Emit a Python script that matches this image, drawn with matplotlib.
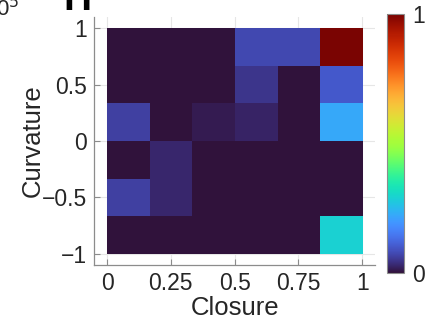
import numpy as np
import matplotlib
matplotlib.use("Agg")
import matplotlib.pyplot as plt

# ----------------------------------
# Data (rows from Curvature = 1 down to -1, columns Closure 0 -> 1)
# ----------------------------------
row_1 = [0.00, 0.00, 0.00, 0.075, 0.075, 1.00]
row_2 = [0.00, 0.00, 0.00, 0.05, 0.00, 0.10]
row_3 = [0.065, 0.00, 0.015, 0.025, 0.00, 0.22]
row_4 = [0.00, 0.03, 0.00, 0.00, 0.00, 0.00]
row_5 = [0.065, 0.03, 0.00, 0.00, 0.00, 0.00]
row_6 = [0.00, 0.00, 0.00, 0.00, 0.00, 0.29]

x_ticks = [0, 0.25, 0.5, 0.75, 1]
x_labels = ["0", "0.25", "0.5", "0.75", "1"]
y_ticks = [-1, -0.5, 0, 0.5, 1]
y_labels = ["\u22121", "\u22120.5", "0", "0.5", "1"]

grid = np.array([row_1, row_2, row_3, row_4, row_5, row_6])

plt.rcParams["font.family"] = ["Liberation Sans", "DejaVu Sans"]
text_col = "#262626"
axis_col = "#8c8c8c"

fig = plt.figure(figsize=(4.38, 3.29), dpi=100)
ax = fig.add_axes([0.2153, 0.1945, 0.641, 0.7538])
cax = fig.add_axes([0.8842, 0.1711, 0.0388, 0.7854])

im = ax.imshow(grid, cmap="turbo", vmin=0, vmax=1, extent=[0, 1, -1, 1],
               origin="upper", aspect="auto", interpolation="nearest", zorder=2)

ax.set_xlim(-0.05, 1.05)
ax.set_ylim(-1.1, 1.1)
ax.set_xticks(x_ticks)
ax.set_xticklabels(x_labels)
ax.set_yticks(y_ticks)
ax.set_yticklabels(y_labels)
ax.grid(True, color="#e6e6e6", linewidth=0.8, zorder=0)
ax.set_axisbelow(True)

for side in ["top", "right"]:
    ax.spines[side].set_visible(False)
for side in ["left", "bottom"]:
    ax.spines[side].set_color(axis_col)
    ax.spines[side].set_linewidth(0.9)

ax.tick_params(direction="in", length=4, color=axis_col, labelsize=16.5,
               labelcolor=text_col, pad=5)
ax.set_xlabel("Closure", fontsize=18.5, color=text_col, labelpad=1)
ax.set_ylabel("Curvature", fontsize=18.5, color=text_col)
ax.yaxis.set_label_coords(-0.176, 0.5)

cb = fig.colorbar(im, cax=cax, ticks=[0, 1])
cb.ax.tick_params(length=0, labelsize=16.5, labelcolor=text_col, pad=6)
cb.outline.set_edgecolor(axis_col)
cb.outline.set_linewidth(0.8)

# cropped remnants of text above the panel
fig.text(-0.008, 1.012, "0$^5$", fontsize=16, color=text_col, va="top", ha="left")
fig.text(0.145, 1.0, "H", fontsize=28, fontweight="bold", color="black",
         va="center", ha="left")

plt.savefig("out.png", dpi=100)
